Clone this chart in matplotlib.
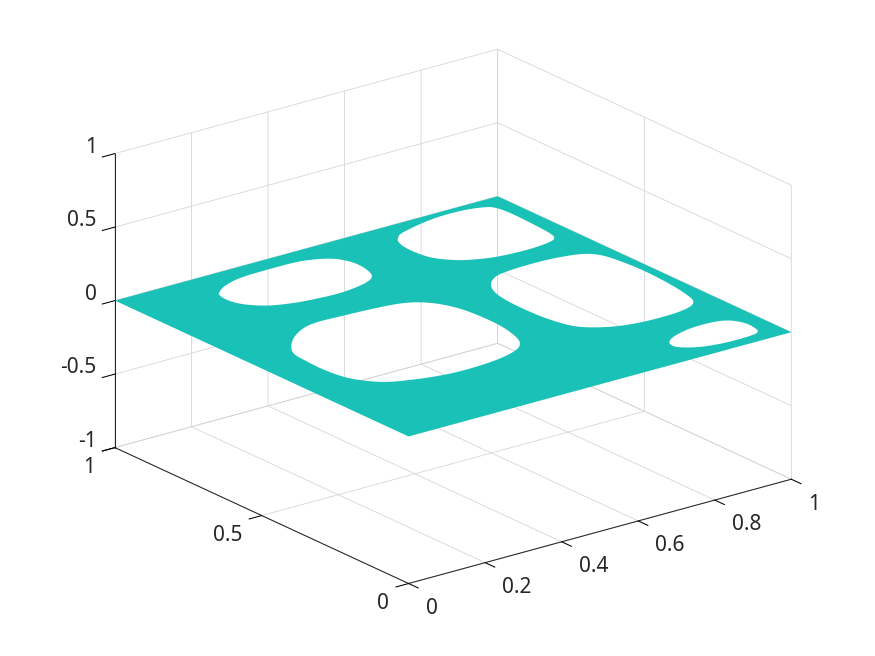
#!/usr/bin/env python3
# -*- coding: UTF-8 -*-
import matplotlib
import numpy as np

matplotlib.use('Agg')
import matplotlib.pyplot as plt
from matplotlib.patches import PathPatch
from matplotlib.path import Path
from mpl_toolkits.mplot3d import art3d

x_ticks = [0, 0.2, 0.4, 0.6, 0.8, 1]
y_ticks = [0, 0.5, 1]
z_ticks = [-1, -0.5, 0, 0.5, 1]
x_labels = ['0', '0.2', '0.4', '0.6', '0.8', '1']
y_labels = ['0', '0.5', '1']
z_labels = ['-1', '-0.5', '0', '0.5', '1']
z_level = 0

# hole outlines in the z=0 sheet (x, y)
hole_a = [(.198, .905), (.234, .931), (.286, .948), (.360, .951), (.444, .950),
          (.497, .929), (.521, .901), (.530, .854), (.515, .792), (.481, .766),
          (.407, .750), (.338, .754), (.284, .763), (.232, .783), (.197, .820),
          (.186, .858), (.190, .891)]
hole_b = [(.126, .565), (.164, .605), (.213, .636), (.255, .646), (.324, .642),
          (.395, .637), (.458, .628), (.496, .609), (.526, .569), (.543, .511),
          (.547, .411), (.534, .334), (.516, .291), (.484, .263), (.419, .243),
          (.333, .236), (.272, .241), (.210, .257), (.157, .279), (.124, .315),
          (.105, .356), (.097, .416), (.100, .488), (.104, .528)]
hole_c = [(.685, .930), (.710, .952), (.813, .979), (.892, .980), (.942, .966),
          (.957, .950), (.962, .902), (.959, .818), (.955, .761), (.946, .735),
          (.925, .722), (.862, .714), (.782, .720), (.734, .738), (.704, .756),
          (.673, .796), (.665, .842), (.666, .883), (.674, .913)]
hole_d = [(.674, .600), (.705, .628), (.735, .639), (.801, .645), (.869, .643),
          (.929, .630), (.956, .609), (.969, .570), (.977, .474), (.971, .368),
          (.960, .296), (.948, .263), (.920, .243), (.869, .233), (.794, .234),
          (.736, .246), (.690, .272), (.662, .303), (.647, .363), (.642, .436),
          (.644, .507), (.654, .561)]
hole_e = [(.760, .105), (.788, .128), (.845, .146), (.907, .147), (.941, .134),
          (.958, .100), (.955, .062), (.947, .043), (.926, .035), (.864, .033),
          (.810, .042), (.778, .057), (.756, .079)]
holes = [hole_a, hole_b, hole_c, hole_d, hole_e]


def hole_path(points):
    # smooth closed curve through the read points, drawn as short segments
    # because mplot3d flattens bezier codes too coarsely at data scale
    p = np.array(points)
    # take the reading noise out of the outline
    p = (np.roll(p, 1, axis=0) + 10 * p + np.roll(p, -1, axis=0)) / 12
    n = len(p)
    verts = []
    for i in range(n):
        p0, p3 = p[i], p[(i + 1) % n]
        c1 = p0 + (p3 - p[i - 1]) / 6
        c2 = p3 - (p[(i + 2) % n] - p0) / 6
        for t in np.linspace(0, 1, 10, endpoint=False):
            s = 1 - t
            verts.append(s**3 * p0 + 3 * s**2 * t * c1 + 3 * s * t**2 * c2 + t**3 * p3)
    verts.append(verts[0])
    codes = [Path.MOVETO] + [Path.LINETO] * (len(verts) - 2) + [Path.CLOSEPOLY]
    return verts, codes


def sheet_path():
    verts = [np.array(v, dtype=float) for v in
             [(0, 0), (1, 0), (1, 1), (0, 1), (0, 0)]]
    codes = [Path.MOVETO, Path.LINETO, Path.LINETO, Path.LINETO, Path.CLOSEPOLY]
    for h in holes:
        v, c = hole_path(h)
        verts += v
        codes += c
    return Path(np.array(verts), codes)


plt.rcParams['font.family'] = ['Noto Sans', 'DejaVu Sans']
fig = plt.figure(figsize=(8.75, 6.56), dpi=100)
ax = fig.add_axes([(445 - 300) / 875, 1 - (324.5 + 300) / 656, 600 / 875, 600 / 656],
                  projection='3d', proj_type='ortho')
ax.view_init(elev=20.8, azim=-127.5)
ax.set_box_aspect((1, 1, 0.652), zoom=1.2155)
ax.set_xlim(0, 1, view_margin=0)
ax.set_ylim(0, 1, view_margin=0)
ax.set_zlim(-1, 1, view_margin=0)
ax.set_xticks(x_ticks)
ax.set_yticks(y_ticks)
ax.set_zticks(z_ticks)
ax.set_xticklabels(x_labels, ha='left', va='center')
ax.set_yticklabels(y_labels, ha='right', va='center')
ax.set_zticklabels(z_labels, ha='right', va='baseline')

for axis in [ax.xaxis, ax.yaxis, ax.zaxis]:
    axis.set_pane_color((1, 1, 1, 0))
    axis.pane.set_edgecolor('#c4c4c4')
    axis.pane.set_linewidth(0.6)
    axis.line.set_color('#262626')
    axis.line.set_linewidth(0.75)
    axis._axinfo['grid'].update(color='#d6d6d6', linewidth=0.6)
    axis._axinfo['tick'].update(inward_factor=0, outward_factor=-0.41)
    axis._axinfo['tick']['linewidth'] = {True: 0.75, False: 0.75}
    axis._axinfo['tick']['color'] = '#262626'
ax.tick_params(labelsize=15, labelcolor='#262626')
ax.tick_params(axis='x', pad=5)
ax.tick_params(axis='y', pad=3.5)
ax.tick_params(axis='z', pad=-2)

patch = PathPatch(sheet_path(), facecolor='#1ac1b7', edgecolor='none', linewidth=0)
ax.add_patch(patch)
art3d.pathpatch_2d_to_3d(patch, z=z_level, zdir='z')
patch.set_clip_on(False)

plt.savefig('out.png', dpi=100)
plt.close('all')
